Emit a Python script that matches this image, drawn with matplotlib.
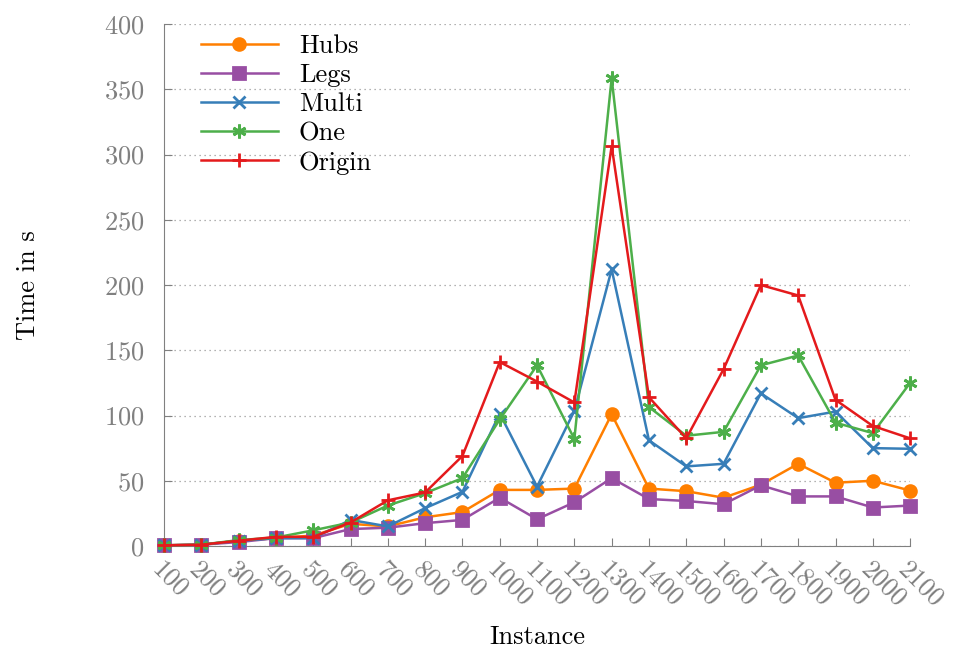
import numpy as np
import matplotlib
matplotlib.use("Agg")
import matplotlib.pyplot as plt

plt.rcParams['font.family'] = ['cmr10', 'DejaVu Serif']
plt.rcParams['axes.formatter.use_mathtext'] = True

# instance sizes
instances = np.arange(100, 2200, 100)

# times in s
hubs = [0.5, 1, 4, 6, 8, 17, 15, 22, 26, 43, 43, 44, 101, 44, 42, 37, 47, 63, 48.5, 50, 42.5]
legs = [0.5, 1, 3, 6, 6, 13, 14, 17.5, 20, 37, 20.5, 33.5, 52, 36, 34.5, 32, 46.5, 38, 38, 29.5, 31]
multi = [0.5, 1, 4, 6, 6, 20, 15, 29, 41.5, 101.5, 45.5, 103.5, 212, 81, 61, 63, 117, 98, 103, 75, 74.5]
one = [0.5, 1, 4.5, 6.5, 12, 18, 31, 40.5, 52, 97, 138.5, 82, 358.5, 106.5, 84.5, 87.5, 138.5, 146, 94.5, 86.5, 125]
origin = [0.5, 1, 4, 7, 7, 18, 35, 41, 69, 141, 126, 110, 306.5, 114, 82.5, 135.5, 200, 192, 112, 92, 82.5]

series = [
    ("Hubs", hubs, "#ff7f00", "o", 8.5),
    ("Legs", legs, "#984ea3", "s", 8.5),
    ("Multi", multi, "#377eb8", "x", 9),
    ("One", one, "#4daf4a", (6, 2, 0), 10),
    ("Origin", origin, "#e41a1c", "+", 10),
]

fig = plt.figure(figsize=(9.55, 6.51), dpi=100)
ax = fig.add_axes([0.1717, 0.1613, 0.7813, 0.8017])

for name, vals, col, mk, ms in series:
    ax.plot(instances, vals, color=col, marker=mk, lw=1.8, ms=ms, mew=2,
            label=name, clip_on=False, zorder=3)

ax.set_xlim(100, 2100)
ax.set_ylim(0, 400)
ax.set_xticks(instances)
ax.set_yticks(np.arange(0, 401, 50))
ax.set_xticklabels([str(v) for v in instances], rotation=-45, ha='left',
                   va='top', rotation_mode='anchor')

gray = '#808080'
for s in ['top', 'right']:
    ax.spines[s].set_visible(False)
for s in ['left', 'bottom']:
    ax.spines[s].set_color(gray)
ax.tick_params(direction='in', colors=gray, labelcolor=gray, labelsize=19,
               length=6, width=0.8)
ax.tick_params(axis='y', pad=14)
ax.tick_params(axis='x', pad=8)
ax.grid(axis='y', color='#999999', linestyle=(0, (1, 3)), lw=0.9)
ax.set_axisbelow(True)

ax.set_xlabel("Instance", fontsize=19, labelpad=10)
ax.set_ylabel("Time in s", fontsize=19, labelpad=46)

ax.legend(loc='upper left', bbox_to_anchor=(0.025, 1.015), frameon=False,
          fontsize=19, handlelength=2.9, handletextpad=0.8,
          labelspacing=0.2, borderaxespad=0.3)

fig.savefig("out.png", dpi=100)
